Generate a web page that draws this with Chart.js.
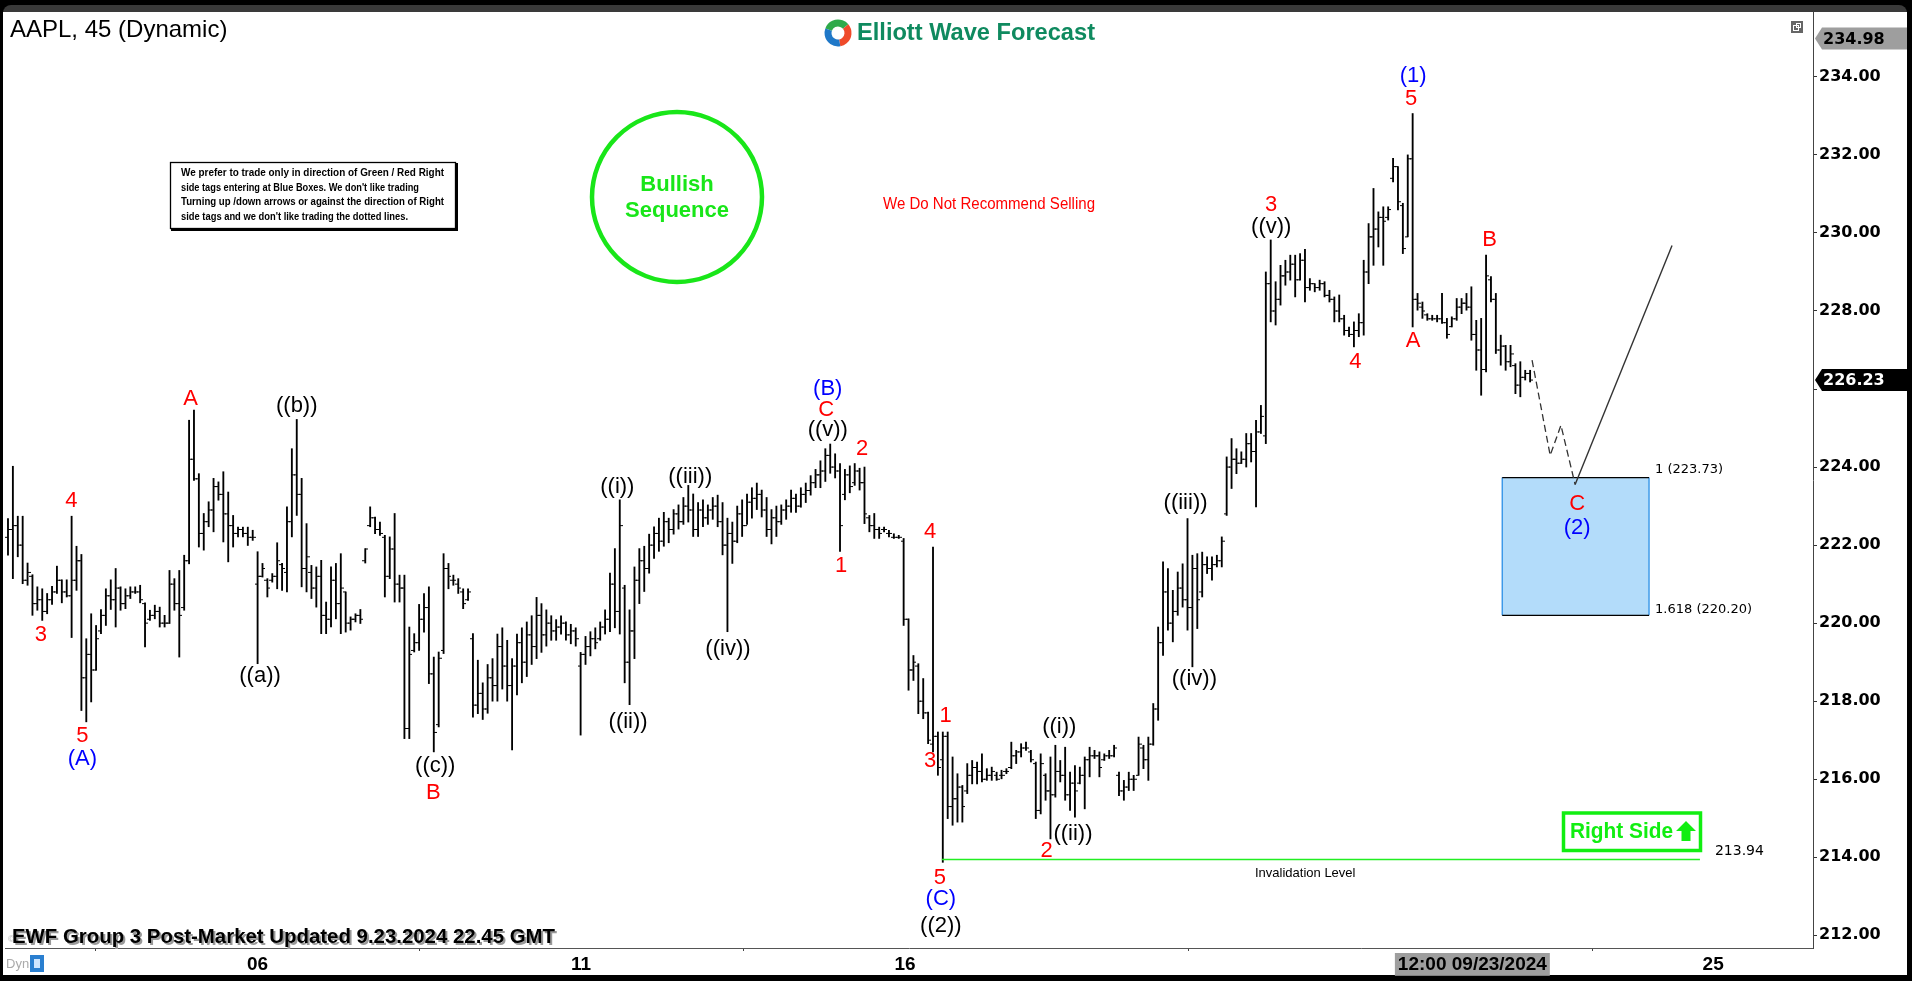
<!DOCTYPE html>
<html><head><meta charset="utf-8">
<script src="https://cdn.jsdelivr.net/npm/chart.js@4.4.1/dist/chart.umd.min.js"></script>
<style>html,body{margin:0;padding:0;background:#000;overflow:hidden}canvas{display:block}</style>
</head><body><canvas id="c" width="1912" height="981"></canvas>
<script>
// ---------- DATA (AAPL 45-min bars) ----------
const opens=[
222.2,222.4,222.5,222.0,221.1,221.2,220.5,220.6,220.3,220.6,
220.8,221.1,220.8,220.7,221.1,221.6,218.6,219.2,218.8,219.8,
220.2,220.7,220.6,220.9,220.5,220.7,220.8,220.8,220.5,220.1,
220.2,220.3,220.0,220.0,221.0,220.5,220.4,221.6,224.2,223.7,
222.3,222.6,222.9,223.5,223.3,222.8,222.5,222.3,222.4,222.3,
222.2,221.0,221.2,221.1,221.1,221.2,221.5,221.3,222.6,223.8,
223.3,221.4,221.3,220.9,221.2,220.2,220.1,221.1,220.5,220.8,
220.0,220.1,220.2,221.6,222.5,222.7,222.4,222.2,221.2,221.9,
221.0,220.9,217.3,219.3,219.5,220.1,220.4,218.7,217.4,219.3,
221.4,221.1,221.0,220.8,220.6,219.6,217.9,
218.2,217.8,218.6,218.4,219.4,218.9,218.4,218.9,219.5,219.0,
219.7,219.4,220.2,219.7,220.0,219.8,219.9,220.0,219.7,219.8,
218.9,219.2,219.4,219.6,219.6,219.9,220.1,221.0,220.3,220.9,
219.0,219.8,221.1,221.6,221.4,222.0,222.3,222.1,222.6,222.4,
222.8,222.6,223.0,222.9,222.4,222.9,222.7,222.9,223.0,222.6,
222.0,222.3,222.1,222.8,222.5,223.1,223.2,223.3,222.9,222.4,
222.7,222.6,222.9,223.0,223.2,223.0,223.3,223.4,223.6,223.8,
223.9,224.3,224.0,223.9,223.3,223.8,223.6,223.9,
223.6,222.7,222.5,222.4,222.4,222.3,222.2,222.2,222.1,220.1,
218.8,218.9,218.0,217.7,216.9,217.1,216.5,217.1,215.3,215.5,
215.8,215.7,216.1,216.3,216.2,216.0,216.1,216.1,216.1,216.2,
216.3,216.6,216.7,216.8,216.7,216.4,215.2,216.1,215.7,215.6,
216.2,216.1,215.6,215.9,215.9,216.1,216.5,216.6,216.6,216.5,
216.6,216.6,216.1,215.7,215.8,216.0,216.1,216.8,216.5,216.9,
217.8,219.5,220.8,220.0,220.3,220.9,220.6,220.4,221.4,220.8,
221.5,221.4,221.5,221.6,222.8,224.0,224.2,224.1,224.2,224.6,
224.4,224.9,224.8,
228.7,228.0,228.3,228.9,229.0,229.2,228.8,229.3,228.6,228.7,
228.6,228.7,228.4,228.3,228.0,227.8,227.5,227.4,227.5,227.7,
229.0,229.9,230.1,230.4,230.4,231.4,231.7,230.7,229.9,231.9,
228.3,228.1,227.9,227.8,227.8,227.8,227.7,227.6,227.8,228.1,
228.2,228.1,227.4,227.0,226.5,228.8,228.3,227.0,227.1,226.7,
226.6,226.1,226.3,226.4];
const highs=[
222.68,224.02,222.74,222.74,221.54,221.24,220.93,220.88,220.76,220.94,
221.46,221.11,221.11,222.74,221.97,221.76,219.60,220.24,219.94,220.35,
220.88,221.11,221.40,220.93,220.88,220.93,220.93,220.97,220.52,220.33,
220.46,220.41,220.20,221.35,221.14,221.35,221.74,225.20,225.46,223.83,
222.81,223.11,223.71,223.62,223.88,223.36,222.76,222.46,222.46,222.46,
222.38,221.83,221.53,221.14,221.27,222.06,221.53,222.98,224.47,225.22,
223.71,222.55,221.48,221.44,221.61,220.54,221.44,221.53,221.78,220.80,
220.16,220.24,220.35,221.91,222.98,222.72,222.59,222.25,222.21,222.81,
221.23,221.23,219.90,219.73,220.48,220.76,220.93,219.13,219.26,221.78,
221.53,221.23,221.14,220.88,220.88,219.73,219.05,
218.47,218.94,219.09,219.72,219.88,219.56,219.09,219.72,219.88,220.03,
220.19,220.66,220.50,220.34,220.19,220.09,220.19,220.03,219.97,219.88,
219.25,219.66,219.78,219.88,220.03,220.34,221.28,221.91,223.16,220.97,
220.34,221.44,221.91,221.97,222.28,222.47,222.69,222.84,222.69,222.91,
223.03,223.22,223.53,223.31,223.09,223.16,223.03,223.22,223.28,223.09,
222.69,222.59,223.00,223.16,223.31,223.47,223.59,223.41,223.22,222.91,
223.00,223.03,223.16,223.41,223.31,223.47,223.59,223.78,223.94,224.16,
224.47,224.59,224.34,224.09,223.94,224.03,224.09,223.97,
224.00,222.76,222.81,222.46,222.46,222.38,222.29,222.25,222.17,220.11,
219.17,218.96,218.58,217.72,221.95,217.21,217.21,217.21,216.57,216.14,
215.84,216.40,216.48,216.44,216.65,216.27,216.31,216.18,216.23,216.27,
216.95,216.74,216.91,216.95,216.74,216.44,216.65,216.14,216.57,216.87,
216.48,216.82,216.18,216.35,216.31,216.57,216.82,216.74,216.70,216.65,
216.74,216.87,216.18,215.97,216.18,216.10,217.08,216.87,217.08,217.94,
219.90,221.57,221.40,220.84,221.31,221.52,222.68,221.74,221.78,221.82,
221.70,221.70,221.74,222.21,224.26,224.73,224.47,224.39,224.86,224.86,
225.20,225.58,229.00,
229.82,228.75,229.17,229.30,229.43,229.43,229.47,229.58,228.83,228.70,
228.79,228.75,228.53,228.36,228.41,227.89,227.59,227.72,227.93,229.30,
230.24,231.14,230.54,230.67,230.67,231.91,231.70,230.76,232.00,233.06,
228.45,228.23,227.93,227.89,227.89,228.45,227.81,227.85,228.32,228.32,
228.45,228.62,227.76,227.81,229.43,228.88,228.45,227.38,227.12,227.12,
226.65,226.70,226.48,226.48];
const lows=[
221.74,221.14,221.70,221.01,220.97,220.20,220.33,220.07,220.24,220.48,
220.76,220.52,220.67,219.63,220.84,217.76,217.47,217.98,218.79,219.73,
219.94,220.35,219.90,220.33,220.37,220.63,220.76,220.52,219.39,220.07,
220.11,219.90,219.90,219.99,220.33,219.13,220.33,221.52,223.66,221.95,
221.87,222.47,222.34,223.15,222.08,221.57,221.95,222.21,222.21,221.99,
222.12,218.96,221.18,220.67,221.05,220.88,220.84,220.80,222.21,222.76,
220.93,220.80,220.63,220.41,219.73,219.73,219.90,220.11,219.73,219.77,
219.82,220.03,219.99,221.54,222.47,222.29,222.25,220.67,221.14,220.54,
220.54,217.04,217.04,219.26,219.30,219.77,218.45,216.70,217.34,219.22,
220.88,220.97,220.76,220.37,220.58,217.59,217.68,
217.53,217.69,218.00,218.00,218.31,218.00,216.75,218.16,218.47,218.63,
218.94,219.09,219.25,219.41,219.56,219.56,219.72,219.56,219.47,219.41,
217.13,218.94,219.16,219.34,219.56,219.72,219.78,219.88,219.72,218.47,
217.91,219.09,220.50,220.81,221.28,221.66,221.84,221.97,222.06,222.28,
222.41,222.53,222.59,222.22,222.22,222.47,222.53,222.66,222.47,221.75,
219.78,221.53,222.06,222.22,222.53,222.69,222.91,222.72,222.22,222.03,
222.22,222.53,222.66,222.84,222.84,222.97,223.09,223.28,223.47,223.47,
223.63,223.84,223.72,221.84,223.16,223.34,223.53,223.41,
222.55,222.34,222.17,222.17,222.34,222.21,222.17,222.17,219.94,218.28,
218.53,217.68,217.55,216.91,216.70,216.10,213.87,214.99,214.82,214.90,
214.90,215.63,215.88,215.88,215.93,215.97,215.97,215.97,216.01,216.14,
216.27,216.40,216.57,216.74,216.44,214.99,215.11,215.46,214.47,215.54,
215.93,215.46,215.20,215.03,215.88,215.24,216.06,216.53,216.06,216.48,
216.53,216.57,215.58,215.46,215.71,215.71,216.10,216.27,215.97,216.87,
217.51,219.17,219.82,219.52,220.20,220.41,219.82,218.88,219.86,220.67,
221.27,221.10,221.44,221.44,222.76,223.45,223.83,224.09,224.00,224.13,
222.98,224.86,224.60,
227.72,227.64,228.15,228.66,228.79,228.36,228.79,228.23,228.53,228.49,
228.53,228.36,228.23,227.72,227.72,227.38,227.34,227.08,227.34,227.38,
228.70,229.17,229.64,229.17,230.33,231.31,230.59,229.47,229.90,227.59,
228.02,227.81,227.76,227.76,227.72,227.68,227.30,227.59,227.76,227.93,
228.02,227.25,226.48,225.84,226.44,228.23,226.91,226.61,226.48,226.57,
225.88,225.80,226.23,226.18];
const closes=[
222.4,222.5,222.0,221.1,221.3,220.5,220.6,220.3,220.6,220.8,
221.1,220.8,220.7,221.1,221.6,218.6,219.2,218.8,219.6,220.2,
220.7,220.6,220.9,220.5,220.7,220.8,220.8,220.6,220.0,220.2,
220.3,220.0,220.0,221.0,220.5,220.2,221.6,224.2,223.7,222.3,
222.6,222.9,223.5,223.3,222.8,222.5,222.3,222.4,222.3,222.2,
222.2,221.2,221.4,220.9,221.2,221.6,221.4,222.6,223.8,223.3,
221.4,221.7,220.9,221.2,220.2,220.1,221.1,220.5,220.9,220.0,
220.1,220.2,220.1,221.9,222.7,222.4,222.3,221.2,221.9,221.0,
220.9,217.3,219.2,219.5,220.1,220.4,218.7,217.2,219.1,221.4,
221.2,221.1,220.9,220.5,220.8,217.9,218.2,
217.8,218.6,218.4,219.4,218.9,218.4,218.9,219.5,219.0,219.7,
219.4,220.2,219.7,220.0,219.8,219.9,220.0,219.7,219.8,219.6,
219.2,219.4,219.6,219.5,219.9,220.1,221.0,220.3,222.5,219.0,
219.8,221.1,221.6,221.4,222.0,222.3,222.1,222.6,222.4,222.8,
222.6,223.0,222.9,222.4,222.9,222.7,222.9,223.0,222.6,222.0,
222.3,222.1,222.8,222.5,223.1,223.2,223.3,222.9,222.4,222.7,
222.6,222.9,223.0,223.2,223.0,223.3,223.4,223.6,223.8,223.9,
224.3,224.0,223.9,222.5,223.8,223.5,223.9,223.6,
222.8,222.5,222.4,222.3,222.4,222.3,222.2,222.2,220.1,218.8,
219.0,218.0,217.7,217.0,217.1,216.3,217.1,215.3,215.5,215.8,
215.3,216.1,216.3,216.2,216.0,216.1,216.2,216.0,216.1,216.2,
216.6,216.7,216.8,216.8,216.5,215.2,216.4,215.7,215.6,216.2,
216.1,215.6,215.9,215.7,216.1,216.5,216.6,216.6,216.3,216.6,
216.6,216.8,215.7,215.8,216.0,216.0,216.9,216.5,216.9,217.8,
219.5,220.8,220.0,220.3,220.9,220.6,220.4,221.4,220.6,221.5,
221.4,221.5,221.6,222.1,224.0,224.2,224.1,224.2,224.6,224.4,
224.9,225.3,228.7,
228.0,228.3,228.9,229.0,229.2,228.8,229.3,228.6,228.7,228.6,
228.7,228.4,228.3,228.0,227.8,227.5,227.4,227.5,227.7,229.0,
229.9,230.1,230.4,230.3,230.6,231.7,230.8,229.6,231.9,228.3,
228.2,228.0,227.8,227.8,227.8,227.7,227.4,227.8,228.1,228.2,
228.1,227.4,227.0,226.5,228.9,228.3,227.0,227.1,226.7,226.9,
226.1,226.3,226.4,226.23];

// x-axis ticks (bar index) and labels
const tickValues=[51.0,117.1,183.3,299.2,348.4];
const tickLabels=['06','11','16','12:00 09/23/2024','25'];
const priceTicks=[212,214,216,218,220,222,224,226,228,230,232,234];

// projection path (bar index, price)
const projDashX=[311.4,315.1,317.3,320.2];
const projDashY=[226.74,224.30,225.07,223.55];
const projSolidX=[320.2,340.0];
const projSolidY=[223.55,229.68];
// invalidation level
const invalidationLevel=213.94;
const invX=[190.8,345.7];
// blue box (fib extension area)
const boxX=[305.3,335.3];
const boxTop=223.73, boxBottom=220.20;
const lastPrice=226.23, topTag=234.98;

// wave labels [text, bar index, price, colour]
const R='#ff0000', B='#0000ff', K='#000000';
const waveLabels=[
 ['4',12.96,223.12,R],['3',6.73,219.69,R],['5',15.2,217.12,R],['A',37.3,225.74,R],['B',86.9,215.64,R],
 ['C',167.2,225.46,R],['2',174.5,224.46,R],['1',170.2,221.46,R],['4',188.4,222.33,R],['1',191.6,217.61,R],
 ['3',188.4,216.48,R],['5',190.4,213.48,R],['2',212.2,214.15,R],['3',258.1,230.71,R],['4',275.3,226.69,R],
 ['5',286.7,233.43,R],['A',287.1,227.22,R],['B',302.7,229.82,R],['C',320.6,223.05,R],
 ['(A)',15.2,216.52,B],['(B)',167.5,226.0,B],['(C)',190.6,212.92,B],['(1)',287.1,234.03,B],['(2)',320.6,222.43,B],
 ['((b))',59.0,225.56,K],['((a))',51.5,218.65,K],['((c))',87.3,216.33,K],['((i))',124.5,223.5,K],['((iii))',139.4,223.74,K],
 ['((ii))',126.7,217.46,K],['((iv))',147.1,219.33,K],['((v))',167.5,224.94,K],['((2))',190.6,212.24,K],['((i))',214.8,217.33,K],
 ['((ii))',217.6,214.59,K],['((iii))',240.6,223.09,K],['((iv))',242.4,218.56,K],['((v))',258.1,230.15,K]
];

// ---------- RENDER ----------
const SANS='"Liberation Sans", Arial, sans-serif';
function tickCanvas(left){const c=document.createElement('canvas');c.width=6;c.height=3;const g=c.getContext('2d');g.fillStyle='#000';g.fillRect(left?0:3,1,3,1);return c;}
function fitText(ctx,text,x,y,w,font){ctx.font=font;const m=ctx.measureText(text).width;ctx.save();ctx.translate(x,y);ctx.scale(w/m,1);ctx.textAlign='left';ctx.fillText(text,0,0);ctx.restore();}

const framePlugin={
 id:'frame',
 beforeDraw(chart){
  const ctx=chart.ctx;
  ctx.save();
  ctx.fillStyle='#000';ctx.fillRect(0,0,1912,981);
  ctx.fillStyle='#3a3a3a';ctx.beginPath();ctx.roundRect(3,5,1904,30,[8,8,0,0]);ctx.fill();
  ctx.fillStyle='#fff';ctx.fillRect(3,12,1904,963);
  ctx.restore();
 },
 beforeDatasetsDraw(chart){
  const ctx=chart.ctx,xs=chart.scales.x,ys=chart.scales.y;
  const x1=xs.getPixelForValue(boxX[0]),x2=xs.getPixelForValue(boxX[1]);
  const y1=ys.getPixelForValue(boxTop),y2=ys.getPixelForValue(boxBottom);
  ctx.save();
  ctx.fillStyle='#b3dcfa';ctx.fillRect(x1,y1,x2-x1,y2-y1);
  ctx.strokeStyle='#1e88e5';ctx.lineWidth=1.2;
  ctx.beginPath();ctx.moveTo(x1,y1);ctx.lineTo(x1,y2);ctx.moveTo(x2,y1);ctx.lineTo(x2,y2);ctx.stroke();
  ctx.strokeStyle='#000';ctx.beginPath();ctx.moveTo(x1,y1);ctx.lineTo(x2,y1);ctx.moveTo(x1,y2);ctx.lineTo(x2,y2);ctx.stroke();
  ctx.restore();
 },
 afterDraw(chart){
  const ctx=chart.ctx,xs=chart.scales.x,ys=chart.scales.y;
  const px=v=>xs.getPixelForValue(v),py=v=>ys.getPixelForValue(v);
  ctx.save();
  ctx.textBaseline='middle';
  // title
  ctx.fillStyle='#000';ctx.font='24px '+SANS;ctx.textAlign='left';
  ctx.fillText('AAPL, 45 (Dynamic)',10,30);
  // logo
  const lc=[838,33];
  [['#2eaa4a',200,320],['#ef4a2a',320,440],['#1f78c8',80,200]].forEach(a=>{
   ctx.strokeStyle=a[0];ctx.lineWidth=7;ctx.beginPath();
   ctx.arc(lc[0],lc[1],10,a[1]*Math.PI/180,a[2]*Math.PI/180);ctx.stroke();});
  ctx.fillStyle='#0f8a5f';fitText(ctx,'Elliott Wave Forecast',857,34,238,'bold 23px '+SANS);
  // small window icon
  ctx.fillStyle='#666';ctx.fillRect(1791,21,12,12);
  ctx.strokeStyle='#fff';ctx.lineWidth=1;ctx.strokeRect(1793.5,25.5,5,5);ctx.strokeRect(1796.5,23.5,4,4);
  // notice box
  ctx.fillStyle='#000';ctx.fillRect(171,163,287,68);
  ctx.fillStyle='#fff';ctx.fillRect(170,162,285,66);
  ctx.strokeStyle='#000';ctx.lineWidth=1.3;ctx.strokeRect(170.5,162.5,285,66);
  ctx.fillStyle='#000';ctx.textBaseline='alphabetic';
  const nf='bold 11px '+SANS;
  fitText(ctx,'We prefer to trade only in direction of Green / Red Right',181,176,263,nf);
  fitText(ctx,"side tags entering at Blue Boxes. We don't like trading",181,190.5,238,nf);
  fitText(ctx,'Turning up /down arrows or against the direction of Right',181,205,263,nf);
  fitText(ctx,"side tags and we don't like trading the dotted lines.",181,219.5,227,nf);
  ctx.textBaseline='middle';
  // bullish sequence
  ctx.strokeStyle='#19e619';ctx.lineWidth=4.5;ctx.beginPath();ctx.arc(677,197,85,0,Math.PI*2);ctx.stroke();
  ctx.fillStyle='#19e619';ctx.font='bold 22px '+SANS;ctx.textAlign='center';
  ctx.fillText('Bullish',677,185);ctx.fillText('Sequence',677,211);
  // red note
  ctx.fillStyle='#ff0000';fitText(ctx,'We Do Not Recommend Selling',883,205,212,'16px '+SANS);
  // wave labels
  ctx.font='22px '+SANS;ctx.textAlign='center';
  waveLabels.forEach(l=>{ctx.fillStyle=l[3];ctx.fillText(l[0],px(l[1]),py(l[2]));});
  // box texts
  ctx.fillStyle='#000';ctx.textAlign='left';ctx.font='13px "DejaVu Sans", sans-serif';
  ctx.fillText('1 ('+boxTop.toFixed(2)+')',px(boxX[1])+6,py(boxTop)-8);
  ctx.fillText('1.618 ('+boxBottom.toFixed(2)+')',px(boxX[1])+6,py(boxBottom)-6);
  ctx.font='14px "DejaVu Sans", sans-serif';
  ctx.fillText(invalidationLevel.toFixed(2),px(invX[1])+15,py(invalidationLevel)-8);
  ctx.font='13px '+SANS;ctx.fillText('Invalidation Level',1255,873);
  // right side box
  ctx.strokeStyle='#11ee11';ctx.lineWidth=3.5;ctx.strokeRect(1563.5,813,137,37.5);
  ctx.fillStyle='#11ee11';fitText(ctx,'Right Side',1570,832,103,'bold 22px '+SANS);
  ctx.beginPath();ctx.moveTo(1686,821);ctx.lineTo(1696,831);ctx.lineTo(1690.5,831);ctx.lineTo(1690.5,841);
  ctx.lineTo(1681.5,841);ctx.lineTo(1681.5,831);ctx.lineTo(1676,831);ctx.closePath();ctx.fill();
  // price tags
  function tag(y,text,bg,fg){ctx.fillStyle=bg;ctx.beginPath();ctx.moveTo(1815,y);ctx.lineTo(1822,y-11);ctx.lineTo(1907,y-11);
   ctx.lineTo(1907,y+11);ctx.lineTo(1822,y+11);ctx.closePath();ctx.fill();
   ctx.fillStyle=fg;ctx.font='bold 16px "DejaVu Sans", sans-serif';ctx.textAlign='left';ctx.fillText(text,1823,y+1);}
  tag(py(topTag),topTag.toFixed(2),'#9e9e9e','#000');
  tag(py(lastPrice),lastPrice.toFixed(2),'#000','#fff');
  // footer
  ctx.fillStyle='#bbb';ctx.font='9px '+SANS;ctx.fillText('©',8,940);
  ctx.fillStyle='#999';fitText(ctx,'EWF Group 3 Post-Market Updated 9.23.2024 22.45 GMT',14,939,543,'bold 20px '+SANS);
  ctx.fillStyle='#000';fitText(ctx,'EWF Group 3 Post-Market Updated 9.23.2024 22.45 GMT',12,937,543,'bold 20px '+SANS);
  ctx.fillStyle='#aaa';ctx.font='13px '+SANS;ctx.fillText('Dyn',6,964);
  ctx.fillStyle='#2a7fd0';ctx.fillRect(30,955,14,17);ctx.fillStyle='#cfe6ff';ctx.fillRect(34,959,6,9);
  ctx.restore();
 }
};

const idx=highs.map((_,i)=>i);
new Chart(document.getElementById('c'),{
 type:'bar',
 data:{datasets:[
  {type:'bar',data:idx.map(i=>({x:i,y:[lows[i],highs[i]]})),backgroundColor:'#000',barThickness:1.2,borderWidth:0,order:3},
  {type:'scatter',data:idx.map(i=>({x:i,y:opens[i]})),pointStyle:tickCanvas(true),pointRadius:2,order:2},
  {type:'scatter',data:idx.map(i=>({x:i,y:closes[i]})),pointStyle:tickCanvas(false),pointRadius:2,order:2},
  {type:'line',data:projDashX.map((x,k)=>({x:x,y:projDashY[k]})),borderColor:'#333',borderWidth:1.3,borderDash:[7,4],pointRadius:0,fill:false,order:1},
  {type:'line',data:projSolidX.map((x,k)=>({x:x,y:projSolidY[k]})),borderColor:'#333',borderWidth:1.4,pointRadius:0,fill:false,order:1},
  {type:'line',data:invX.map(x=>({x:x,y:invalidationLevel})),borderColor:'#22ee22',borderWidth:1.5,pointRadius:0,fill:false,order:1}
 ]},
 options:{
  responsive:false,animation:false,events:[],devicePixelRatio:1,
  layout:{padding:{left:3,top:12,right:0,bottom:0}},
  plugins:{legend:{display:false},tooltip:{enabled:false}},
  scales:{
   x:{type:'linear',min:-0.61,max:368.8,offset:false,
    afterFit:s=>{s.height=33;},
    afterBuildTicks:s=>{s.ticks=tickValues.map(v=>({value:v}));},
    grid:{drawOnChartArea:false,drawTicks:true,tickLength:3,color:'#444'},
    border:{color:'#555',width:1},
    ticks:{autoSkip:false,maxRotation:0,minRotation:0,padding:2,color:'#000',
     font:{family:'"Liberation Sans", Arial, sans-serif',size:19,weight:'bold'},
     callback:(v,i)=>tickLabels[i],
     showLabelBackdrop:c=>c.index===3,backdropColor:'#9e9e9e',backdropPadding:{left:3,right:3,top:0,bottom:0}}},
   y:{type:'linear',position:'right',min:211.674,max:235.662,beginAtZero:false,
    afterFit:s=>{s.width=99;},
    afterBuildTicks:s=>{s.ticks=priceTicks.map(v=>({value:v}));},
    grid:{drawOnChartArea:false,drawTicks:true,tickLength:4,color:'#333'},
    border:{color:'#444',width:1},
    ticks:{padding:2,color:'#000',font:{family:'"DejaVu Sans", sans-serif',size:16,weight:'bold'},
     callback:v=>(Math.abs(v-lastPrice)<0.5?'':v.toFixed(2))}}
  }
 },
 plugins:[framePlugin]
});
</script>
</body></html>
